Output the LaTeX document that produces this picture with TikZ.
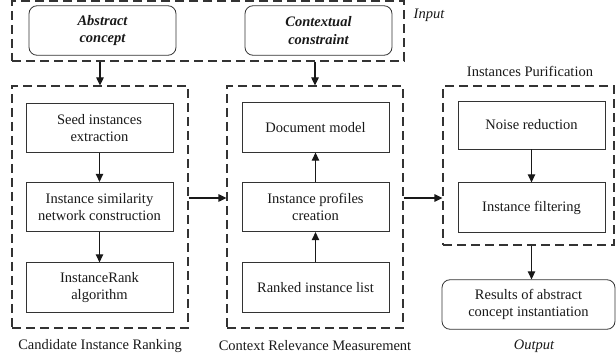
\documentclass[tikz,border=0pt]{standalone}
\usepackage{fontspec}
\setmainfont{Liberation Serif}
\usetikzlibrary{arrows.meta}
\begin{document}
\begin{tikzpicture}[x=1pt,y=-1pt,
  txt/.style={font=\fontsize{14.5}{17.5}\selectfont, text=black!90},
  proc/.style={txt, draw=black!80, line width=0.8pt, align=center, inner sep=0pt, minimum width=147pt, minimum height=49.5pt},
  term/.style={proc, rounded corners=8pt, font=\fontsize{14.5}{17.5}\selectfont\bfseries\itshape},
  grp/.style={draw=black!80, line width=1.2pt, dash pattern=on 9pt off 5pt, inner sep=0pt},
  arr/.style={draw=black!90, line width=1.2pt, -{Triangle[length=8pt,width=7.5pt]}}
]
\useasboundingbox (0,0) rectangle (616,358);
% groups
\node[grp, minimum width=392pt, minimum height=60pt] (input) at (208,31) {};
\node[grp, minimum width=176pt, minimum height=242pt] (cand) at (100,207) {};
\node[grp, minimum width=176pt, minimum height=242pt] (ctx) at (315,207) {};
\node[grp, minimum width=171pt, minimum height=159pt] (purif) at (528.5,165.5) {};
% input boxes
\node[term] (abs) at (102.5,30.5) {Abstract\\concept};
\node[term] (con) at (318.5,30.5) {Contextual\\constraint};
% candidate
\node[proc] (seed) at (99.5,128) {Seed instances\\extraction};
\node[proc] (sim) at (99.5,207) {Instance similarity\\network construction};
\node[proc] (rank) at (99.5,287.5) {InstanceRank\\algorithm};
% context
\node[proc] (doc) at (315.5,127.5) {Document model};
\node[proc] (prof) at (315.5,207) {Instance profiles\\creation};
\node[proc] (ranked) at (315.5,287.5) {Ranked instance list};
% purification
\node[proc, minimum height=48pt] (noise) at (531.5,125) {Noise reduction};
\node[proc] (filt) at (531.5,207.5) {Instance filtering};
\node[term, font=\fontsize{14.5}{17.5}\selectfont, minimum width=173pt] (res) at (528.5,304.5) {Results of abstract\\concept instantiation};
% labels
\node[txt] (lcand) at (100,346) {Candidate Instance Ranking};
\node[txt] (lctx) at (315,346) {Context Relevance Measurement};
\node[txt, font=\fontsize{14.5}{17.5}\selectfont\itshape] (lout) at (534,346) {Output};
\node[txt, font=\fontsize{14.5}{17.5}\selectfont\itshape] (lin) at (429,15) {Input};
\node[txt] (lpur) at (530,71) {Instances Purification};
% arrows
\draw[arr] (input.south -| cand.north) -- (cand.north);
\draw[arr] (input.south -| ctx.north) -- (ctx.north);
\draw[arr] (seed.south) -- (sim.north);
\draw[arr] (sim.south) -- (rank.north);
\draw[arr] (ranked.north) -- (prof.south);
\draw[arr] (prof.north) -- (doc.south);
\draw[arr] (noise.south) -- (filt.north);
\draw[arr] ([yshift=9pt]cand.east) -- ([yshift=9pt]ctx.west);
\draw[arr] ([yshift=9pt]ctx.east) -- ([yshift=9pt]ctx.east -| purif.west);
\draw[arr] (purif.south -| filt.south) -- (res.north -| filt.south);
\end{tikzpicture}
\end{document}
